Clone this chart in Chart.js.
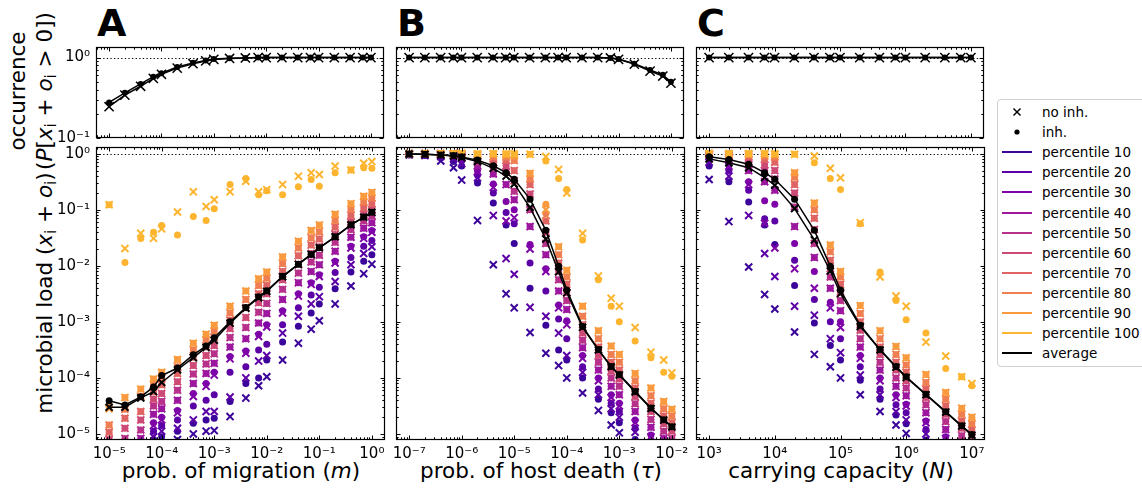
<!DOCTYPE html>
<html><head><meta charset="utf-8">
<script src="https://cdn.jsdelivr.net/npm/chart.js@4.4.1/dist/chart.umd.min.js"></script>
<style>
html,body{margin:0;padding:0;background:#fff;}
body{width:1142px;height:489px;position:relative;overflow:hidden;font-family:'DejaVu Sans',sans-serif;color:#000;}
canvas{position:absolute;}
.t{position:absolute;white-space:nowrap;font-size:21.5px;line-height:1;}
.rot{transform:translate(-50%,-50%) rotate(-90deg);}
.hc{transform:translate(-50%,-50%);}
.letter{position:absolute;font-weight:bold;font-size:38px;line-height:38px;}
sub{font-size:0.7em;vertical-align:-0.25em;line-height:0;}
#legend{position:absolute;left:997px;top:99px;width:170px;height:266px;border:1px solid #d0d0d0;border-radius:4px;background:#fff;}
.lrow{position:absolute;left:0;height:20px;width:170px;font-size:13.5px;line-height:20px;}
.lrow svg{position:absolute;left:4px;top:0;}
.lrow span{position:absolute;left:44px;top:0;}
</style></head><body>

<div class="letter" style="left:97px;top:4px">A</div>
<div class="letter" style="left:397px;top:4px">B</div>
<div class="letter" style="left:697px;top:4px">C</div>

<div class="t rot" style="left:18px;top:91px">occurrence</div>
<div class="t rot" style="left:45px;top:91px">(<i>P</i>[<i>x</i><sub>i</sub> + <i>o</i><sub>i</sub> &gt; 0])</div>
<div class="t rot" style="left:45px;top:293px">microbial load (<i>x</i><sub>i</sub> + <i>o</i><sub>i</sub>)</div>

<div class="t hc" style="left:241px;top:471px">prob. of migration (<i>m</i>)</div>
<div class="t hc" style="left:541px;top:471px">prob. of host death (<i>τ</i>)</div>
<div class="t hc" style="left:841px;top:471px">carrying capacity (<i>N</i>)</div>

<div id="legend"></div>

<script>
// ---------------- DATA ----------------
const PERCENTILES = [10,20,30,40,50,60,70,80,90,100];
const PCT_COLORS = ['#3b049a','#5c01a6','#7e03a8','#9c179e','#b7318a','#ce4a76','#e06363','#ef7e50','#f99a3e','#fdb42f'];

// Panel A: probability of migration m
const A_x = [1e-5,2e-5,4e-5,7e-5,1e-4,2e-4,4e-4,7e-4,1e-3,2e-3,4e-3,7e-3,1e-2,2e-2,4e-2,7e-2,1e-1,2e-1,4e-1,7e-1,1];
const A_occ_inh   = [0.277,0.365,0.47,0.58,0.64,0.765,0.86,0.92,0.96,0.98,0.99,1,1,1,1,1,1,1,1,1,1];
const A_occ_noinh = [0.245,0.342,0.44,0.55,0.62,0.74,0.84,0.91,0.95,0.975,0.99,1,1,1,1,1,1,1,1,1,1];
const A_avg_inh   = [3.9e-5,3.3e-5,4.6e-5,6.9e-5,1.1e-4,1.5e-4,2.6e-4,3.7e-4,5.2e-4,1.0e-3,1.8e-3,2.8e-3,3.6e-3,6.5e-3,1.07e-2,1.6e-2,2.1e-2,3.3e-2,5.4e-2,7.4e-2,9.0e-2];
const A_avg_noinh = [3.0e-5,3.0e-5,4.4e-5,5.7e-5,8.3e-5,1.4e-4,2.3e-4,3.5e-4,4.7e-4,9.5e-4,1.75e-3,2.7e-3,3.5e-3,6.4e-3,1.06e-2,1.6e-2,2.1e-2,3.3e-2,5.4e-2,7.4e-2,9.0e-2];
// percentile values as log10 of microbial load, rows = percentile 10..100
const A_inh_log10 = [
 [-6.2,-5.9,-5.6,-5.1,-5.05,-4.95,-4.81,-4.75,-4.72,-4.42,-4.1,-4.0,-3.68,-3.36,-3.08,-2.84,-2.68,-2.41,-2.11,-1.92,-1.80],
 [-5.9,-5.65,-5.4,-4.95,-4.85,-4.75,-4.5,-4.4,-4.3,-3.9,-3.8,-3.5,-3.4,-3.05,-2.75,-2.52,-2.38,-2.12,-1.85,-1.65,-1.55],
 [-5.7,-5.45,-5.25,-4.8,-4.7,-4.58,-4.28,-4.1,-3.9,-3.62,-3.52,-3.22,-3.05,-2.8,-2.5,-2.3,-2.16,-1.92,-1.65,-1.48,-1.37],
 [-5.5,-5.25,-5.08,-4.65,-4.55,-4.4,-4.1,-3.92,-3.74,-3.45,-3.3,-3.02,-2.85,-2.6,-2.3,-2.1,-1.98,-1.74,-1.49,-1.33,-1.23],
 [-5.3,-5.08,-4.93,-4.5,-4.42,-4.22,-3.93,-3.75,-3.57,-3.28,-3.1,-2.83,-2.67,-2.42,-2.13,-1.93,-1.81,-1.58,-1.35,-1.2,-1.11],
 [-5.1,-4.9,-4.75,-4.38,-4.28,-4.07,-3.78,-3.6,-3.42,-3.12,-2.92,-2.66,-2.5,-2.25,-1.97,-1.78,-1.66,-1.44,-1.22,-1.08,-1.0],
 [-4.97,-4.72,-4.6,-4.25,-4.12,-3.92,-3.63,-3.45,-3.28,-2.97,-2.75,-2.5,-2.35,-2.1,-1.82,-1.63,-1.52,-1.31,-1.1,-0.97,-0.89],
 [-4.84,-4.56,-4.33,-4.12,-4.0,-3.8,-3.5,-3.32,-3.16,-2.84,-2.6,-2.35,-2.22,-1.96,-1.68,-1.5,-1.39,-1.19,-0.99,-0.86,-0.79],
 [-4.5,-4.35,-4.2,-4.02,-3.9,-3.67,-3.38,-3.22,-3.06,-2.72,-2.45,-2.23,-2.11,-1.84,-1.56,-1.37,-1.27,-1.08,-0.89,-0.76,-0.69],
 [-0.91,-1.94,-1.51,-1.40,-1.28,-1.45,-1.12,-1.19,-0.98,-0.55,-0.44,-0.73,-0.66,-0.73,-0.59,-0.46,-0.58,-0.34,-0.29,-0.25,-0.26]
];
const A_noinh_log10 = [
 [-6.4,-6.1,-5.8,-5.3,-5.2,-5.1,-5.0,-4.95,-4.94,-4.69,-4.36,-4.14,-3.98,-3.68,-3.38,-3.13,-2.98,-2.68,-2.36,-2.14,-1.97],
 [-6.0,-5.75,-5.5,-5.05,-4.95,-4.9,-4.75,-4.6,-4.6,-4.34,-4.0,-3.7,-3.6,-3.2,-2.9,-2.68,-2.55,-2.28,-1.98,-1.78,-1.66],
 [-5.75,-5.5,-5.3,-4.85,-4.75,-4.62,-4.33,-4.15,-3.95,-3.66,-3.56,-3.26,-3.09,-2.84,-2.54,-2.33,-2.19,-1.95,-1.68,-1.51,-1.4],
 [-5.5,-5.25,-5.08,-4.65,-4.55,-4.4,-4.1,-3.92,-3.74,-3.45,-3.3,-3.02,-2.85,-2.6,-2.3,-2.1,-1.98,-1.74,-1.49,-1.33,-1.23],
 [-5.3,-5.08,-4.93,-4.5,-4.42,-4.22,-3.93,-3.75,-3.57,-3.28,-3.1,-2.83,-2.67,-2.42,-2.13,-1.93,-1.81,-1.58,-1.35,-1.2,-1.11],
 [-5.1,-4.9,-4.75,-4.38,-4.28,-4.07,-3.78,-3.6,-3.42,-3.12,-2.92,-2.66,-2.5,-2.25,-1.97,-1.78,-1.66,-1.44,-1.22,-1.08,-1.0],
 [-4.97,-4.72,-4.6,-4.25,-4.12,-3.92,-3.63,-3.45,-3.28,-2.97,-2.75,-2.5,-2.35,-2.1,-1.82,-1.63,-1.52,-1.31,-1.1,-0.97,-0.89],
 [-4.84,-4.56,-4.33,-4.12,-4.0,-3.8,-3.5,-3.32,-3.16,-2.84,-2.6,-2.35,-2.22,-1.96,-1.68,-1.5,-1.39,-1.19,-0.99,-0.86,-0.79],
 [-4.55,-4.35,-4.2,-4.02,-3.9,-3.67,-3.38,-3.22,-3.06,-2.72,-2.45,-2.23,-2.11,-1.84,-1.56,-1.37,-1.27,-1.08,-0.89,-0.76,-0.69],
 [-0.91,-1.69,-1.42,-1.51,-1.34,-1.04,-0.68,-0.94,-0.82,-0.68,-0.49,-0.68,-0.64,-0.55,-0.40,-0.34,-0.37,-0.22,-0.29,-0.17,-0.14]
];

// Panel B: probability of host death tau
const B_x = [1e-7,2e-7,4e-7,7e-7,1e-6,2e-6,4e-6,7e-6,1e-5,2e-5,4e-5,7e-5,1e-4,2e-4,4e-4,7e-4,1e-3,2e-3,4e-3,7e-3,1e-2];
const B_occ_inh   = [1,1,1,1,1,1,1,1,1,1,1,1,1,1,1,0.99,0.96,0.84,0.70,0.61,0.50];
const B_occ_noinh = [1,1,1,1,1,1,1,1,1,1,1,1,1,1,1,0.99,0.95,0.83,0.68,0.59,0.48];
const B_avg_inh   = [0.99,0.98,0.955,0.93,0.88,0.77,0.61,0.46,0.35,0.155,0.043,9.8e-3,3.7e-3,8.3e-4,3.2e-4,1.6e-4,1.15e-4,5.75e-5,2.9e-5,1.8e-5,1.35e-5];
const B_avg_noinh = [0.99,0.98,0.95,0.91,0.86,0.73,0.55,0.40,0.29,0.11,0.03,7.8e-3,3.3e-3,8.0e-4,3.15e-4,1.58e-4,1.13e-4,5.6e-5,2.85e-5,1.77e-5,1.33e-5];
const B_inh_log10 = [
 [-0.02,-0.03,-0.07,-0.14,-0.22,-0.52,-0.88,-1.27,-1.6,-2.4,-3.06,-3.5,-3.68,-4.0,-4.38,-4.62,-4.8,-5.1,-5.35,-5.5,-5.6],
 [-0.01,-0.02,-0.04,-0.07,-0.12,-0.38,-0.7,-1.05,-1.25,-1.95,-2.45,-2.95,-3.3,-3.8,-4.2,-4.45,-4.6,-4.9,-5.15,-5.35,-5.45],
 [-0.01,-0.01,-0.02,-0.04,-0.07,-0.3,-0.54,-0.85,-1.0,-1.62,-2.05,-2.7,-2.98,-3.6,-4.0,-4.3,-4.45,-4.75,-5.02,-5.2,-5.32],
 [0,0,-0.01,-0.02,-0.04,-0.22,-0.36,-0.55,-0.82,-1.3,-1.8,-2.45,-2.78,-3.46,-3.86,-4.15,-4.3,-4.6,-4.88,-5.08,-5.2],
 [0,0,0,-0.01,-0.02,-0.15,-0.26,-0.32,-0.67,-1.0,-1.6,-2.25,-2.62,-3.33,-3.72,-4.0,-4.15,-4.46,-4.74,-4.95,-5.08],
 [0,0,0,0,-0.01,-0.1,-0.18,-0.22,-0.48,-0.72,-1.4,-2.1,-2.48,-3.2,-3.6,-3.88,-4.02,-4.33,-4.6,-4.82,-4.95],
 [0,0,0,0,0,-0.06,-0.1,-0.12,-0.3,-0.55,-1.2,-1.95,-2.33,-3.05,-3.45,-3.72,-3.86,-4.18,-4.45,-4.68,-4.8],
 [0,0,0,0,0,-0.03,-0.05,-0.06,-0.12,-0.45,-1.06,-1.8,-2.2,-2.9,-3.3,-3.58,-3.72,-4.05,-4.32,-4.55,-4.68],
 [0,0,0,0,0,-0.01,0,-0.02,-0.04,-0.35,-0.9,-1.66,-2.08,-2.72,-3.16,-3.43,-3.58,-3.92,-4.18,-4.42,-4.56],
 [0,0,0,0,0,0,0,0,0,-0.01,-0.13,-0.44,-0.64,-1.54,-2.25,-2.72,-3.0,-3.34,-3.64,-3.9,-3.97]
];
const B_noinh_log10 = [
 [-0.02,-0.03,-0.13,-0.25,-0.47,-1.19,-1.98,-2.5,-2.75,-3.19,-3.56,-3.78,-4.0,-4.27,-4.58,-4.84,-4.98,-5.3,-5.5,-5.7,-5.8],
 [-0.01,-0.02,-0.05,-0.09,-0.18,-0.43,-1.1,-1.87,-2.15,-2.74,-2.9,-3.2,-3.6,-3.9,-4.3,-4.55,-4.7,-4.97,-5.25,-5.4,-5.5],
 [-0.01,-0.01,-0.02,-0.04,-0.08,-0.32,-0.6,-1.2,-1.14,-1.7,-2.1,-2.75,-3.05,-3.65,-4.05,-4.35,-4.5,-4.8,-5.05,-5.25,-5.35],
 [0,0,-0.01,-0.02,-0.04,-0.22,-0.36,-0.55,-0.82,-1.3,-1.8,-2.45,-2.78,-3.46,-3.86,-4.15,-4.3,-4.6,-4.88,-5.08,-5.2],
 [0,0,0,-0.01,-0.02,-0.15,-0.26,-0.32,-0.67,-1.0,-1.6,-2.25,-2.62,-3.33,-3.72,-4.0,-4.15,-4.46,-4.74,-4.95,-5.08],
 [0,0,0,0,-0.01,-0.1,-0.18,-0.22,-0.48,-0.72,-1.4,-2.1,-2.48,-3.2,-3.6,-3.88,-4.02,-4.33,-4.6,-4.82,-4.95],
 [0,0,0,0,0,-0.06,-0.1,-0.12,-0.3,-0.55,-1.2,-1.95,-2.33,-3.05,-3.45,-3.72,-3.86,-4.18,-4.45,-4.68,-4.8],
 [0,0,0,0,0,-0.03,-0.05,-0.06,-0.12,-0.45,-1.1,-1.8,-2.2,-2.9,-3.3,-3.58,-3.72,-4.05,-4.32,-4.55,-4.68],
 [0,0,0,0,0,-0.01,0,-0.02,-0.04,-0.35,-1.0,-1.66,-2.08,-2.72,-3.16,-3.43,-3.58,-3.92,-4.18,-4.42,-4.56],
 [0,0,0,0,0,0,0,0,0,-0.01,-0.05,-0.28,-0.70,-1.42,-2.18,-2.58,-2.72,-3.1,-3.54,-3.68,-3.91]
];

// Panel C: carrying capacity N
const C_x = [1e3,2e3,4e3,7e3,1e4,2e4,4e4,7e4,1e5,2e5,4e5,7e5,1e6,2e6,4e6,7e6,1e7];
const C_occ_inh   = [1,1,1,1,1,1,1,1,1,1,1,1,1,1,1,1,1];
const C_occ_noinh = [1,1,1,1,1,1,1,1,1,1,1,1,1,1,1,1,1];
const C_avg_inh   = [0.88,0.79,0.65,0.46,0.35,0.155,0.043,9.8e-3,3.7e-3,8.7e-4,3.2e-4,1.6e-4,1.05e-4,5.1e-5,2.5e-5,1.4e-5,9.8e-6];
const C_avg_noinh = [0.81,0.69,0.565,0.376,0.274,0.105,0.029,8.1e-3,3.2e-3,8.3e-4,3.15e-4,1.55e-4,1.02e-4,5.0e-5,2.45e-5,1.38e-5,9.5e-6];
const C_inh_log10 = [
 [-0.22,-0.5,-0.86,-1.27,-1.62,-2.35,-3.02,-3.42,-3.68,-4.04,-4.38,-4.66,-4.82,-5.11,-5.4,-5.6,-5.7],
 [-0.1,-0.3,-0.65,-1.16,-1.2,-1.9,-2.6,-3.0,-3.3,-3.8,-4.2,-4.48,-4.62,-4.92,-5.2,-5.4,-5.55],
 [-0.05,-0.2,-0.5,-0.84,-0.9,-1.6,-2.1,-2.65,-3.0,-3.6,-4.0,-4.3,-4.47,-4.77,-5.05,-5.28,-5.42],
 [-0.02,-0.1,-0.3,-0.5,-0.65,-1.3,-1.85,-2.4,-2.8,-3.45,-3.86,-4.15,-4.32,-4.62,-4.92,-5.15,-5.3],
 [-0.01,-0.06,-0.18,-0.3,-0.45,-0.95,-1.6,-2.2,-2.62,-3.3,-3.72,-4.0,-4.18,-4.48,-4.78,-5.03,-5.18],
 [0,-0.03,-0.1,-0.2,-0.3,-0.7,-1.35,-2.05,-2.47,-3.15,-3.58,-3.86,-4.05,-4.35,-4.65,-4.9,-5.06],
 [0,-0.01,-0.05,-0.1,-0.15,-0.55,-1.15,-1.9,-2.33,-3.0,-3.45,-3.72,-3.9,-4.2,-4.5,-4.77,-4.93],
 [0,0,-0.02,-0.04,-0.06,-0.42,-1.0,-1.75,-2.2,-2.85,-3.3,-3.58,-3.77,-4.08,-4.38,-4.65,-4.82],
 [0,0,0,0,-0.01,-0.34,-0.88,-1.63,-2.1,-2.71,-3.16,-3.44,-3.64,-3.94,-4.26,-4.54,-4.7],
 [0,0,0,0,0,-0.01,-0.16,-0.44,-0.64,-1.25,-2.11,-2.62,-2.96,-3.2,-3.83,-3.98,-4.14]
];
const C_noinh_log10 = [
 [-0.46,-1.21,-2.02,-2.51,-2.77,-3.18,-3.58,-3.8,-4.0,-4.3,-4.6,-4.84,-4.99,-5.3,-5.6,-5.8,-5.9],
 [-0.15,-0.4,-1.1,-1.78,-2.19,-2.72,-2.88,-3.3,-3.55,-3.95,-4.3,-4.6,-4.75,-5.0,-5.25,-5.45,-5.6],
 [-0.05,-0.22,-0.55,-1.24,-1.68,-2.05,-2.4,-2.75,-3.1,-3.65,-4.05,-4.35,-4.5,-4.8,-5.08,-5.3,-5.45],
 [-0.02,-0.1,-0.3,-0.5,-0.65,-1.3,-1.85,-2.4,-2.8,-3.45,-3.86,-4.15,-4.32,-4.62,-4.92,-5.15,-5.3],
 [-0.01,-0.06,-0.18,-0.3,-0.45,-0.95,-1.6,-2.2,-2.62,-3.3,-3.72,-4.0,-4.18,-4.48,-4.78,-5.03,-5.18],
 [0,-0.03,-0.1,-0.2,-0.3,-0.7,-1.35,-2.05,-2.47,-3.15,-3.58,-3.86,-4.05,-4.35,-4.65,-4.9,-5.06],
 [0,-0.01,-0.05,-0.1,-0.15,-0.55,-1.15,-1.9,-2.33,-3.0,-3.45,-3.72,-3.9,-4.2,-4.5,-4.77,-4.93],
 [0,0,-0.02,-0.04,-0.06,-0.42,-1.0,-1.75,-2.2,-2.85,-3.3,-3.58,-3.77,-4.08,-4.38,-4.65,-4.82],
 [0,0,0,0,-0.01,-0.34,-0.88,-1.63,-2.1,-2.71,-3.16,-3.44,-3.64,-3.94,-4.26,-4.54,-4.7],
 [0,0,0,0,0,-0.01,-0.04,-0.26,-0.43,-1.23,-2.2,-2.54,-2.72,-3.36,-3.61,-3.98,-4.1]
];

// axis ranges (log10 of limits)
const A_xlim_log10 = [-5.25, 0.25];
const B_xlim_log10 = [-7.25, -1.75];
const C_xlim_log10 = [2.8, 7.2];
const OCC_ylim = [0.1, 1.355];
const LOAD_ylim = [7.8e-6, 1.32];

// ---------------- RENDERING ----------------
Chart.defaults.font.family = "'DejaVu Sans', sans-serif";
Chart.defaults.color = '#000';
const SUP = {'-':'⁻','0':'⁰','1':'¹','2':'²','3':'³','4':'⁴','5':'⁵','6':'⁶','7':'⁷','8':'⁸','9':'⁹'};
const fmtPow = v => '10' + String(Math.round(Math.log10(v))).split('').map(c => SUP[c]).join('');
function decadeTicks(scale) {
  const out = [];
  for (let d = Math.ceil(Math.log10(scale.min) - 1e-9); d <= Math.floor(Math.log10(scale.max) + 1e-9); d++) out.push({value: Math.pow(10, d)});
  scale.ticks = out;
}
function logTicks(scale) {
  const out = [];
  const lo = Math.floor(Math.log10(scale.min)), hi = Math.ceil(Math.log10(scale.max));
  for (let d = lo; d <= hi; d++) for (let m = 1; m <= 9; m++) {
    const v = m * Math.pow(10, d);
    if (v >= scale.min * 0.9999 && v <= scale.max * 1.0001) out.push({v, major: m === 1});
  }
  return out;
}
const frameTicks = {
  id: 'frameTicks',
  beforeDatasetsDraw(chart) {
    const {ctx, chartArea: a, scales: {y}} = chart;
    const py = Math.round(y.getPixelForValue(1)) + 0.5;
    ctx.save(); ctx.strokeStyle = '#000'; ctx.lineWidth = 1.1; ctx.setLineDash([1.3, 2.3]);
    ctx.beginPath(); ctx.moveTo(a.left, py); ctx.lineTo(a.right, py); ctx.stroke(); ctx.restore();
  },
  afterDraw(chart) {
    const {ctx, chartArea: a, scales: {x, y}} = chart;
    ctx.save(); ctx.strokeStyle = '#000'; ctx.lineWidth = 1;
    const L = Math.round(a.left) + 0.5, R = Math.round(a.right) - 0.5, T = Math.round(a.top) + 0.5, B = Math.round(a.bottom) - 0.5;
    ctx.beginPath();
    for (const t of logTicks(x)) {
      const px = Math.round(x.getPixelForValue(t.v)) + 0.5, len = t.major ? 4 : 2.2;
      ctx.moveTo(px, B); ctx.lineTo(px, B - len); ctx.moveTo(px, T); ctx.lineTo(px, T + len);
    }
    for (const t of logTicks(y)) {
      const py = Math.round(y.getPixelForValue(t.v)) + 0.5, len = t.major ? 4 : 2.2;
      ctx.moveTo(L, py); ctx.lineTo(L + len, py); ctx.moveTo(R, py); ctx.lineTo(R - len, py);
    }
    ctx.stroke();
    ctx.lineWidth = 1.2;
    ctx.strokeRect(L, T, R - L, B - T);
    ctx.restore();
  }
};

function makeChart(left, top, w, h, xlimLog, ylim, datasets, showX, showY) {
  const cv = document.createElement('canvas');
  cv.width = w + 65; cv.height = h + 35;
  cv.style.left = (left - 60) + 'px'; cv.style.top = (top - 5) + 'px';
  document.body.appendChild(cv);
  new Chart(cv.getContext('2d'), {
    type: 'scatter',
    data: {datasets},
    options: {
      responsive: false, animation: false, devicePixelRatio: 1, events: [],
      layout: {padding: {left: 0, right: 5, top: 5, bottom: 0}},
      plugins: {legend: {display: false}, tooltip: {enabled: false}},
      scales: {
        x: {type: 'logarithmic', position: 'bottom',
            min: Math.pow(10, xlimLog[0]), max: Math.pow(10, xlimLog[1]),
            afterBuildTicks: decadeTicks,
            afterFit: s => { s.height = 30; s.paddingLeft = 0; s.paddingRight = 0; },
            grid: {display: false, drawTicks: false}, border: {display: false},
            ticks: {display: showX, autoSkip: false, maxRotation: 0, minRotation: 0, padding: 5,
                    font: {size: 15}, color: '#000', callback: v => fmtPow(v)}},
        y: {type: 'logarithmic', position: 'left',
            min: ylim[0], max: ylim[1],
            afterBuildTicks: decadeTicks,
            afterFit: s => { s.width = 60; s.paddingTop = 0; s.paddingBottom = 0; },
            grid: {display: false, drawTicks: false}, border: {display: false},
            ticks: {display: showY, autoSkip: false, padding: 6,
                    font: {size: 15}, color: '#000', callback: v => fmtPow(v)}}
      }
    },
    plugins: [frameTicks]
  });
}

const pts = (xs, ys) => xs.map((x, i) => ({x, y: ys[i]}));
const ptsLog = (xs, ls) => xs.map((x, i) => ({x, y: Math.pow(10, ls[i])}));

function occDatasets(xs, inh, noinh) {
  return [
    {type: 'line', data: pts(xs, inh), borderColor: '#000', borderWidth: 1.5, tension: 0, fill: false,
     pointStyle: 'circle', pointRadius: 3, pointBackgroundColor: '#000', pointBorderColor: '#000', pointBorderWidth: 0, clip: 0},
    {type: 'line', data: pts(xs, noinh), borderColor: '#000', borderWidth: 1.5, tension: 0, fill: false,
     pointStyle: 'crossRot', pointRadius: 6.5, pointBorderColor: '#000', pointBorderWidth: 1.5, clip: 0}
  ];
}
function loadDatasets(xs, avgInh, avgNo, inhRows, noRows) {
  const ds = [
    {type: 'line', data: pts(xs, avgInh), borderColor: '#000', borderWidth: 1.5, tension: 0, fill: false,
     pointStyle: 'circle', pointRadius: 3.5, pointBackgroundColor: '#000', pointBorderColor: '#000', pointBorderWidth: 0, clip: 0},
    {type: 'line', data: pts(xs, avgNo), borderColor: '#000', borderWidth: 1.5, tension: 0, fill: false,
     pointStyle: 'crossRot', pointRadius: 5, pointBorderColor: '#000', pointBorderWidth: 2, clip: 0}
  ];
  for (let k = PERCENTILES.length - 1; k >= 0; k--) {
    ds.push({data: ptsLog(xs, inhRows[k]), showLine: false, pointStyle: 'circle', pointRadius: 3.5,
             pointBackgroundColor: PCT_COLORS[k], pointBorderColor: PCT_COLORS[k], pointBorderWidth: 0, clip: 0});
    ds.push({data: ptsLog(xs, noRows[k]), showLine: false, pointStyle: 'crossRot', pointRadius: 5,
             pointBackgroundColor: PCT_COLORS[k], pointBorderColor: PCT_COLORS[k], pointBorderWidth: 2, clip: 0});
  }
  return ds;
}

const COLS = [96, 396, 696], PW = 291;
const TOP_ROW = {top: 44, h: 94}, BOT_ROW = {top: 145, h: 295};

makeChart(COLS[0], TOP_ROW.top, PW, TOP_ROW.h, A_xlim_log10, OCC_ylim, occDatasets(A_x, A_occ_inh, A_occ_noinh), false, true);
makeChart(COLS[1], TOP_ROW.top, PW, TOP_ROW.h, B_xlim_log10, OCC_ylim, occDatasets(B_x, B_occ_inh, B_occ_noinh), false, false);
makeChart(COLS[2], TOP_ROW.top, PW, TOP_ROW.h, C_xlim_log10, OCC_ylim, occDatasets(C_x, C_occ_inh, C_occ_noinh), false, false);
makeChart(COLS[0], BOT_ROW.top, PW, BOT_ROW.h, A_xlim_log10, LOAD_ylim, loadDatasets(A_x, A_avg_inh, A_avg_noinh, A_inh_log10, A_noinh_log10), true, true);
makeChart(COLS[1], BOT_ROW.top, PW, BOT_ROW.h, B_xlim_log10, LOAD_ylim, loadDatasets(B_x, B_avg_inh, B_avg_noinh, B_inh_log10, B_noinh_log10), true, false);
makeChart(COLS[2], BOT_ROW.top, PW, BOT_ROW.h, C_xlim_log10, LOAD_ylim, loadDatasets(C_x, C_avg_inh, C_avg_noinh, C_inh_log10, C_noinh_log10), true, false);

// legend (real text)
const legend = document.getElementById('legend');
const legendItems = [
  {label: 'no inh.', sym: '<svg width="30" height="20"><line x1="11.5" y1="6.5" x2="18.5" y2="13.5" stroke="#000" stroke-width="1.5"/><line x1="18.5" y1="6.5" x2="11.5" y2="13.5" stroke="#000" stroke-width="1.5"/></svg>'},
  {label: 'inh.', sym: '<svg width="30" height="20"><circle cx="15" cy="10" r="2.6" fill="#000"/></svg>'}
];
PERCENTILES.forEach((p, k) => legendItems.push({label: 'percentile ' + p,
  sym: '<svg width="30" height="20"><line x1="0" y1="10" x2="30" y2="10" stroke="' + PCT_COLORS[k] + '" stroke-width="2"/></svg>'}));
legendItems.push({label: 'average', sym: '<svg width="30" height="20"><line x1="0" y1="10" x2="30" y2="10" stroke="#000" stroke-width="2"/></svg>'});
legendItems.forEach((it, i) => {
  const r = document.createElement('div');
  r.className = 'lrow';
  r.style.top = (2 + i * 20.1) + 'px';
  r.innerHTML = it.sym + '<span>' + it.label + '</span>';
  legend.appendChild(r);
});
</script>
</body></html>
